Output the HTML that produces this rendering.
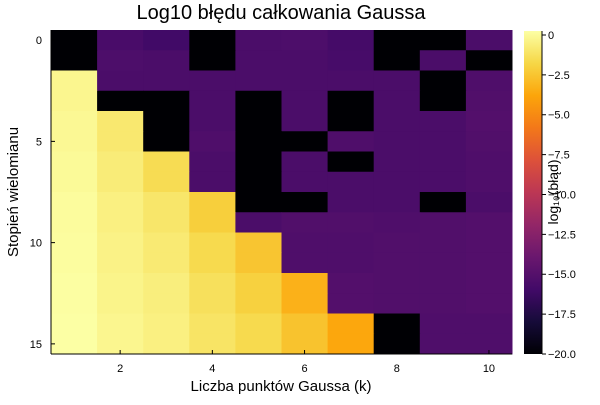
<!DOCTYPE html>
<html><head><meta charset="utf-8"><style>
body{margin:0;background:#fff;}
svg{font-family:"Liberation Sans","DejaVu Sans",sans-serif;}
</style></head><body>
<svg id="c" width="600" height="400" xmlns="http://www.w3.org/2000/svg">
<defs><linearGradient id="inf" x1="0" y1="1" x2="0" y2="0">
<stop offset="0" stop-color="#000004"/><stop offset="0.1" stop-color="#160b39"/><stop offset="0.2" stop-color="#420a68"/><stop offset="0.3" stop-color="#6a176e"/><stop offset="0.4" stop-color="#932667"/><stop offset="0.5" stop-color="#bc3754"/><stop offset="0.6" stop-color="#dd513a"/><stop offset="0.7" stop-color="#f37819"/><stop offset="0.8" stop-color="#fca50a"/><stop offset="0.9" stop-color="#f6d746"/><stop offset="1" stop-color="#fcffa4"/>
</linearGradient></defs>
<text x="281" y="19" font-size="20" text-anchor="middle">Log10 błędu całkowania Gaussa</text>
<g id="cells"></g>
<g id="axes"></g>
<rect x="524" y="31" width="18" height="323" fill="url(#inf)"/>
<g id="cbt"></g>
<text transform="translate(558,192) rotate(-90)" font-size="14" text-anchor="middle">log₁₀(błąd)</text>
<text x="281" y="391" font-size="15" text-anchor="middle">Liczba punktów Gaussa (k)</text>
<text transform="translate(18,192) rotate(-90)" font-size="15" text-anchor="middle">Stopień wielomianu</text>
</svg>
<script>
const kValues=[1,2,3,4,5,6,7,8,9,10];
const degrees=[0,1,2,3,4,5,6,7,8,9,10,11,12,13,14,15];
const B=-20;
const row0=[B,-15.6,-16,B,-15.5,-15.4,-15.8,B,B,-15.5];
const row1=[B,-15.4,-15.5,B,-15.5,-15.5,-15.7,B,-15.5,B];
const row2=[-0.2,-15.5,-15.5,-15.5,-15.5,-15.5,-15.5,-15.5,B,-15.3];
const row3=[-0.2,B,B,-15.5,B,-15.5,B,-15.5,B,-15.2];
const row4=[-0.1,-0.9,B,-15.5,B,-15.5,B,-15.5,-15.5,-15.1];
const row5=[-0.1,-0.9,B,-15.3,B,B,-15.3,-15.5,-15.5,-15.2];
const row6=[0,-0.7,-1.5,-15.5,B,-15.5,B,-15.5,-15.5,-15.3];
const row7=[0,-0.7,-1.5,-15.5,B,-15.5,-15.5,-15.5,-15.5,-15.3];
const row8=[0.1,-0.5,-1.0,-2.1,B,B,-15.5,-15.5,B,-15.5];
const row9=[0.1,-0.5,-1.0,-2.1,-15.5,-15.2,-15.2,-15.3,-15.2,-15.1];
const row10=[0.15,-0.4,-0.8,-1.6,-2.5,-15.3,-15.3,-15.2,-15.2,-15.1];
const row11=[0.15,-0.4,-0.8,-1.6,-2.5,-15.3,-15.3,-15.2,-15.2,-15.1];
const row12=[0.2,-0.3,-0.6,-1.3,-2.0,-3.3,-15.1,-15.2,-15.2,-15.1];
const row13=[0.2,-0.3,-0.6,-1.3,-2.0,-3.3,-15.1,-15.2,-15.2,-15.1];
const row14=[0.25,-0.2,-0.5,-1.1,-1.6,-2.6,-3.7,B,-15.3,-15.3];
const row15=[0.25,-0.2,-0.5,-1.1,-1.6,-2.6,-3.7,B,-15.3,-15.3];
const grid=[row0,row1,row2,row3,row4,row5,row6,row7,row8,row9,row10,row11,row12,row13,row14,row15];
const xTicks=[2,4,6,8,10];
const yTicks=[0,5,10,15];
const cbTicks=[0,-2.5,-5,-7.5,-10,-12.5,-15,-17.5,-20];
const cbTickLabels=["0","−2.5","−5.0","−7.5","−10.0","−12.5","−15.0","−17.5","−20.0"];
const vmin=-20,vmax=0.25;
const L=51,R=512,T=30,Bt=354;
const cw=(R-L)/kValues.length, rh=(Bt-T)/degrees.length;
const xs=k=>L+(k-0.5)*cw;
const ys=d=>T+(d+0.5)*rh;
const cy=v=>354-(v-vmin)/(vmax-vmin)*323;
const stops=["#000004","#160b39","#420a68","#6a176e","#932667","#bc3754","#dd513a","#f37819","#fca50a","#f6d746","#fcffa4"];
function hx(h){return [1,3,5].map(i=>parseInt(h.substr(i,2),16));}
function cmap(v){let t=Math.max(0,Math.min(1,(v-vmin)/(vmax-vmin)))*10;let i=Math.min(9,Math.floor(t));let f=t-i;let a=hx(stops[i]),b=hx(stops[i+1]);return "rgb("+a.map((x,j)=>Math.round(x+(b[j]-x)*f)).join(",")+")";}
const NS="http://www.w3.org/2000/svg";
function mk(tag,at,parent){const e=document.createElementNS(NS,tag);for(const k in at)e.setAttribute(k,at[k]);parent.appendChild(e);return e;}
const cells=document.getElementById('cells');
degrees.forEach((d,ri)=>kValues.forEach((k,ci)=>{
 const r=mk('rect',{x:xs(k)-cw/2,y:ys(d)-rh/2,width:cw+0.5,height:rh+0.5,fill:cmap(grid[ri][ci])},cells);
 
 
}));
const ax=document.getElementById('axes');
const xl=mk('line',{x1:L,y1:Bt,x2:R,y2:Bt,stroke:'#000','stroke-width':1},ax);


const yl=mk('line',{x1:L,y1:T,x2:L,y2:Bt,stroke:'#000','stroke-width':1},ax);


xTicks.forEach(k=>{
 const tk=mk('line',{x1:xs(k),y1:Bt,x2:xs(k),y2:Bt-4,stroke:'#000'},ax);
 
 
 const t=mk('text',{x:xs(k),y:372,'font-size':11,'text-anchor':'middle'},ax);t.textContent=k;
 
 
});
yTicks.forEach(d=>{
 const tk=mk('line',{x1:L,y1:ys(d),x2:L+4,y2:ys(d),stroke:'#000'},ax);
 
 
 const t=mk('text',{x:42,y:ys(d)+4,'font-size':11,'text-anchor':'end'},ax);t.textContent=d;
 
 
});
const cbt=document.getElementById('cbt');
cbTicks.forEach((v,i)=>{
 const tk=mk('line',{x1:542,y1:cy(v),x2:546,y2:cy(v),stroke:'#000'},cbt);
 
 
 const t=mk('text',{x:548,y:cy(v)+4,'font-size':11},cbt);t.textContent=cbTickLabels[i];
 
 
});
const cbl=mk('line',{x1:542,y1:31,x2:542,y2:354,stroke:'#000'},cbt);


</script>
</body></html>
